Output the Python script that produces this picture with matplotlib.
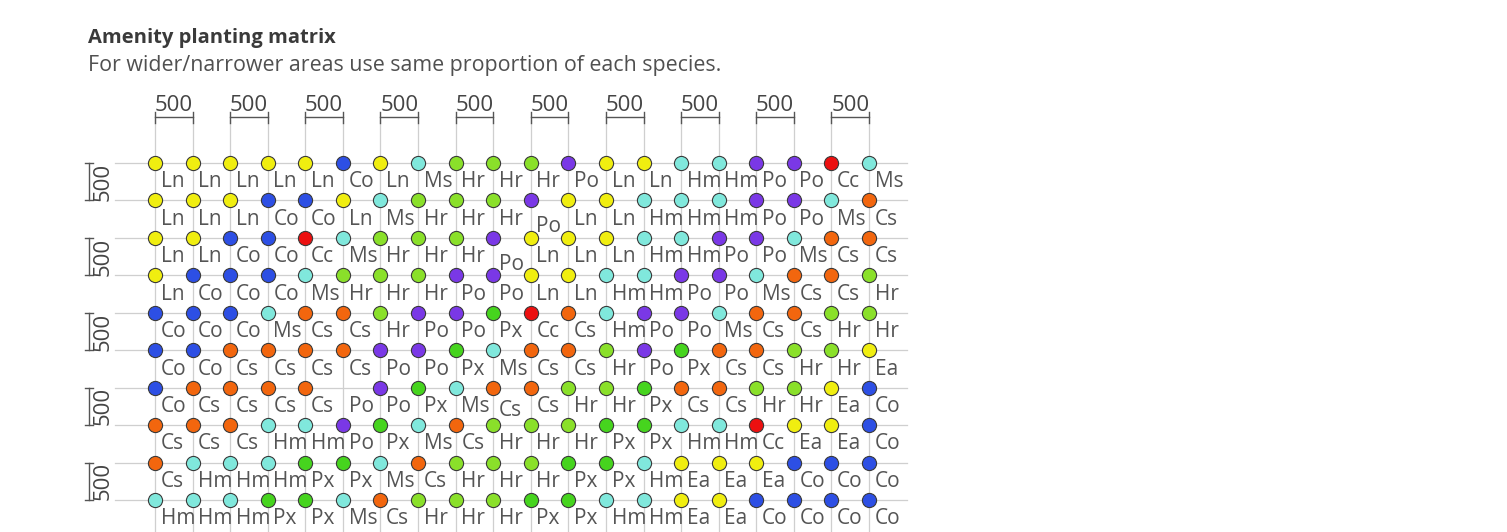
import matplotlib
matplotlib.use("Agg")
import matplotlib.pyplot as plt

# ---------------- data ----------------
title = "Amenity planting matrix"
subtitle = "For wider/narrower areas use same proportion of each species."
dim_label = "500"

row0 = ["Ln", "Ln", "Ln", "Ln", "Ln", "Co", "Ln", "Ms", "Hr", "Hr", "Hr", "Po", "Ln", "Ln", "Hm", "Hm", "Po", "Po", "Cc", "Ms"]
row1 = ["Ln", "Ln", "Ln", "Co", "Co", "Ln", "Ms", "Hr", "Hr", "Hr", "Po", "Ln", "Ln", "Hm", "Hm", "Hm", "Po", "Po", "Ms", "Cs"]
row2 = ["Ln", "Ln", "Co", "Co", "Cc", "Ms", "Hr", "Hr", "Hr", "Po", "Ln", "Ln", "Ln", "Hm", "Hm", "Po", "Po", "Ms", "Cs", "Cs"]
row3 = ["Ln", "Co", "Co", "Co", "Ms", "Hr", "Hr", "Hr", "Po", "Po", "Ln", "Ln", "Hm", "Hm", "Po", "Po", "Ms", "Cs", "Cs", "Hr"]
row4 = ["Co", "Co", "Co", "Ms", "Cs", "Cs", "Hr", "Po", "Po", "Px", "Cc", "Cs", "Hm", "Po", "Po", "Ms", "Cs", "Cs", "Hr", "Hr"]
row5 = ["Co", "Co", "Cs", "Cs", "Cs", "Cs", "Po", "Po", "Px", "Ms", "Cs", "Cs", "Hr", "Po", "Px", "Cs", "Cs", "Hr", "Hr", "Ea"]
row6 = ["Co", "Cs", "Cs", "Cs", "Cs", "Po", "Po", "Px", "Ms", "Cs", "Cs", "Hr", "Hr", "Px", "Cs", "Cs", "Hr", "Hr", "Ea", "Co"]
row7 = ["Cs", "Cs", "Cs", "Hm", "Hm", "Po", "Px", "Ms", "Cs", "Hr", "Hr", "Hr", "Px", "Px", "Hm", "Hm", "Cc", "Ea", "Ea", "Co"]
row8 = ["Cs", "Hm", "Hm", "Hm", "Px", "Px", "Ms", "Cs", "Hr", "Hr", "Hr", "Px", "Px", "Hm", "Ea", "Ea", "Ea", "Co", "Co", "Co"]
row9 = ["Hm", "Hm", "Hm", "Px", "Px", "Ms", "Cs", "Hr", "Hr", "Hr", "Px", "Px", "Hm", "Hm", "Ea", "Ea", "Co", "Co", "Co", "Co"]
matrix = [row0, row1, row2, row3, row4, row5, row6, row7, row8, row9]

# plants whose dot is absent in the drawing (row, column)
missing_dots = [(6, 5)]

species = ["Ln", "Co", "Ms", "Hr", "Po", "Hm", "Cc", "Cs", "Px", "Ea"]
species_colors = ["#f0ee10", "#2d4fe4", "#80e8dc", "#8ae02a", "#7a38e6",
                  "#80e8dc", "#ec1010", "#f2660e", "#46d41e", "#f0ee10"]
color_of = dict(zip(species, species_colors))

# ---------------- layout ----------------
W, H = 1507, 532
px_c0, px_dc = 155.0, 37.58     # column 0 pixel x, column spacing
px_r0, px_dr = 163.0, 37.44     # row 0 pixel y, row spacing

fig = plt.figure(figsize=(W / 100, H / 100), dpi=100)
fig.patch.set_facecolor("white")
ax = fig.add_axes([0, 0, 1, 1])
ax.set_xlim(-px_c0 / px_dc, (W - px_c0) / px_dc)
ax.set_ylim((H - px_r0) / px_dr, -px_r0 / px_dr)
ax.axis("off")

ncols = len(row0)
nrows = len(matrix)
fam = ["Open Sans", "DejaVu Sans"]
grid_c = "#cfcfcf"

# grid lines
for r in range(nrows):
    ax.plot([-1.06, ncols], [r, r], color=grid_c, lw=0.9, zorder=1)
for c in range(ncols):
    ax.plot([c, c], [-1.15, nrows + 1], color=grid_c, lw=0.9, zorder=1)

# dots and labels
nudge = {(1, 10): 0.2, (2, 9): 0.2, (6, 9): 0.12}
for r, row in enumerate(matrix):
    for c, sp in enumerate(row):
        if (r, c) not in missing_dots:
            ax.plot(c, r, "o", ms=10.2, mfc=color_of[sp], mec="#3a3a3a",
                    mew=0.8, zorder=3)
        ax.text(c + 0.15, r + 0.65 + nudge.get((r, c), 0.0), sp,
                fontsize=15, color="#555555", family=fam,
                ha="left", va="baseline", zorder=4)

# top dimension markers
for c in range(0, ncols, 2):
    y = -1.23
    ax.plot([c, c + 1], [y, y], color="#555555", lw=1.0, zorder=2)
    for cc in (c, c + 1):
        ax.plot([cc, cc], [-1.37, -1.08], color="#555555", lw=1.0, zorder=2)
    ax.text(c + 0.5, -1.39, dim_label, fontsize=16, color="#444444",
            family=fam, ha="center", va="baseline")

# left dimension markers
xd = -1.756
for r in range(0, nrows, 2):
    ax.plot([xd, xd], [r, r + 1], color="#555555", lw=1.0, zorder=2)
    for rr in (r, r + 1):
        ax.plot([xd - 0.11, xd + 0.11], [rr, rr], color="#555555", lw=1.0, zorder=2)
    ax.text(-1.37, r + 0.5, dim_label, fontsize=16, color="#444444",
            family=fam, ha="center", va="center", rotation=90)

# title / subtitle
fig.text(88 / W, 1 - 43 / H, title, fontsize=14.5, fontweight="bold",
         color="#3a3a3a", family=fam, ha="left", va="baseline")
fig.text(88 / W, 1 - 71 / H, subtitle, fontsize=15.4, color="#505050",
         family=fam, ha="left", va="baseline")

fig.savefig("out.png", dpi=100, facecolor="white")
